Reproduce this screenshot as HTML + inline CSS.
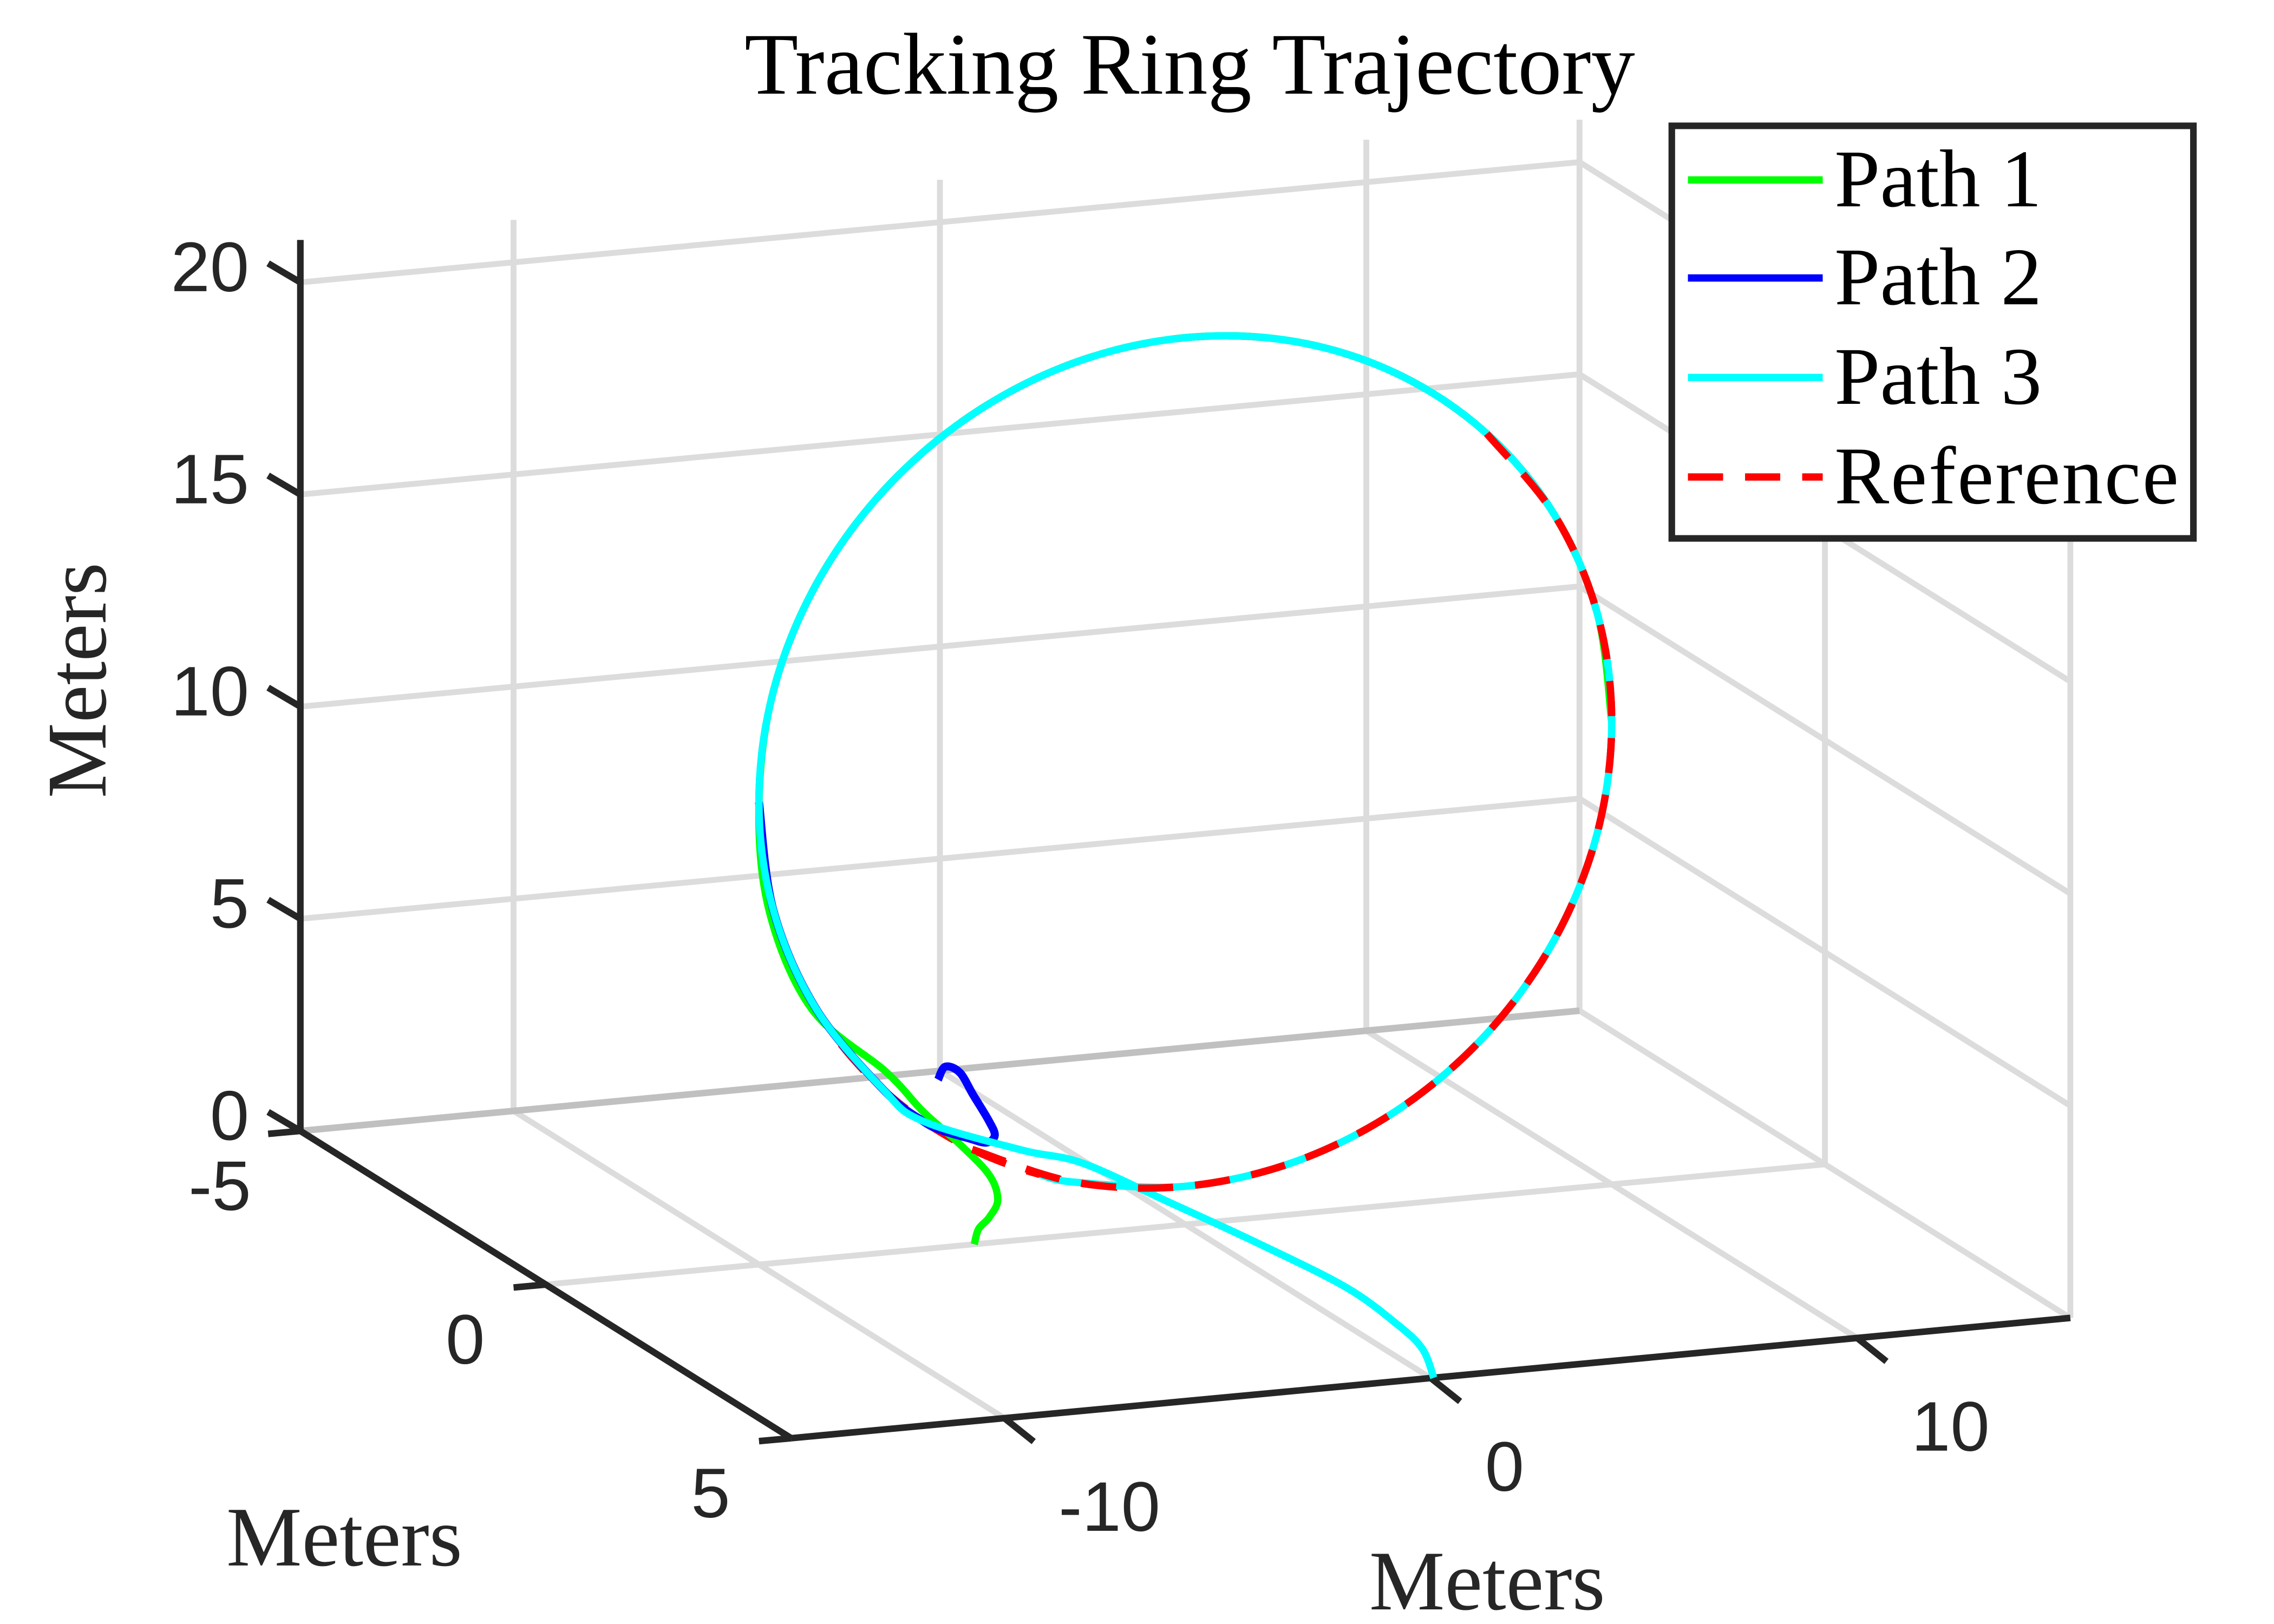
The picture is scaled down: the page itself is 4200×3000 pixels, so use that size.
<!DOCTYPE html>
<html><head><meta charset="utf-8"><title>Tracking Ring Trajectory</title>
<style>html,body{margin:0;padding:0;background:#fff;}svg{display:block;}</style></head>
<body>
<svg id="chart" xmlns="http://www.w3.org/2000/svg" width="4200" height="3000" viewBox="0 0 1552 1110" preserveAspectRatio="none">
<rect x="0" y="0" width="1552" height="1110" fill="#fff"/>
<g id="grid"></g>
<g id="axes"></g>
<g id="series"></g>
<text x="812" y="64" text-anchor="middle" font-family="'Liberation Serif', serif" font-size="60" fill="#000">Tracking Ring Trajectory</text>
<text transform="translate(72,465) rotate(-90)" text-anchor="middle" font-family="'Liberation Serif', serif" font-size="58" fill="#262626">Meters</text>
<text x="235" y="1070" text-anchor="middle" font-family="'Liberation Serif', serif" font-size="58" fill="#262626">Meters</text>
<text x="1015" y="1100" text-anchor="middle" font-family="'Liberation Serif', serif" font-size="58" fill="#262626">Meters</text>
<g>
<rect x="1141" y="86" width="356" height="282" fill="#fff" stroke="#262626" stroke-width="4.5"/>
<line x1="1152" y1="123" x2="1244" y2="123" stroke="#00ff00" stroke-width="5"/>
<text x="1252" y="141" font-family="'Liberation Serif', serif" font-size="56">Path 1</text>
<line x1="1152" y1="190" x2="1244" y2="190" stroke="#0000ff" stroke-width="5"/>
<text x="1252" y="208" font-family="'Liberation Serif', serif" font-size="56">Path 2</text>
<line x1="1152" y1="258" x2="1244" y2="258" stroke="#00ffff" stroke-width="5"/>
<text x="1252" y="276" font-family="'Liberation Serif', serif" font-size="56">Path 3</text>
<line x1="1152" y1="326" x2="1244" y2="326" stroke="#ff0000" stroke-width="5" stroke-dasharray="24 15"/>
<text x="1252" y="344" font-family="'Liberation Serif', serif" font-size="56" textLength="235">Reference</text>
</g>
</svg>
<script>
// axis limits and ticks
const xLim = [-15, 15];
const yLim = [-5, 5];
const zLim = [0, 21];
const xTicks = [-10, 0, 10];
const yTicks = [-5, 0, 5];
const zTicks = [0, 5, 10, 15, 20];
const xTickLabels = ["-10", "0", "10"];
const yTickLabels = ["-5", "0", "5"];
const zTickLabels = ["0", "5", "10", "15", "20"];

// Reference ring (sampled every 15 deg)
const refX = [10, 9.66, 8.66, 7.07, 5, 2.59, 0, -2.59, -5, -7.07, -8.66, -9.66, -10, -9.66, -8.66, -7.07, -5, -2.59, 0, 2.59, 5, 7.07, 8.66, 9.66, 10];
const refY = [0, 0, 0, 0, 0, 0, 0, 0, 0, 0, 0, 0, 0, 0, 0, 0, 0, 0, 0, 0, 0, 0, 0, 0, 0];
const refZ = [10.9, 13.49, 15.9, 17.97, 19.56, 20.56, 20.9, 20.56, 19.56, 17.97, 15.9, 13.49, 10.9, 8.31, 5.9, 3.83, 2.24, 1.24, 0.9, 1.24, 2.24, 3.83, 5.9, 8.31, 10.9];

// Path 3 (cyan)
const p3X = [0.07, 0.38, 0.36, -0.03, -1.16, -2.42, -3.79, -4.54, -6.16, -7.07, -8.66, -9.66, -10, -9.66, -8.66, -7.07, -5, -2.59, 0, 2.59, 5, 7.07, 8.66, 9.66, 10, 9.66, 8.66, 7.07, 5, 2.59, 0, -2.59, -3.42];
const p3Y = [5, 4.5, 4, 3.3, 2.5, 1.8, 1.2, 0.6, 0, 0, 0, 0, 0, 0, 0, 0, 0, 0, 0, 0, 0, 0, 0, 0, 0, 0, 0, 0, 0, 0, 0, 0, 0];
const p3Z = [0, 0.29, 0.51, 0.91, 1.47, 2.04, 2.67, 2.62, 3.02, 3.83, 5.9, 8.31, 10.9, 13.49, 15.9, 17.97, 19.56, 20.56, 20.9, 20.56, 19.56, 17.97, 15.9, 13.49, 10.9, 8.31, 5.9, 3.83, 2.24, 1.24, 0.9, 1.24, 1.5];

// Path 1 (green)
const p1X = [-4.95, -4.85, -4.6, -4.4, -4.6, -5.29, -6.15, -7.01, -8.76, -9.76, -10, -9.66, -8.66, -7.07, -5, -2.59, 0, 2.59, 5, 7.07, 8.66, 9.66, 10];
const p1Y = [0, 0, 0, 0, 0, 0, 0, 0, 0, 0, 0, 0, 0, 0, 0, 0, 0, 0, 0, 0, 0, 0, 0];
const p1Z = [0, 0.35, 0.6, 1.0, 1.6, 2.39, 3.24, 4.25, 5.9, 8.31, 10.9, 13.49, 15.9, 17.97, 19.56, 20.56, 20.9, 20.56, 19.56, 17.97, 15.9, 13.49, 10.9];

// Path 2 (blue)
const p2X = [-5.8, -5.63, -5.29, -4.98, -4.61, -4.47, -4.67, -5.08, -5.7, -6.16, -7.07, -8.66, -9.66, -10];
const p2Y = [0, 0, 0, 0, 0, 0, 0, 0, 0, 0, 0, 0, 0, 0];
const p2Z = [3.96, 4.25, 4.08, 3.53, 2.88, 2.52, 2.37, 2.51, 2.75, 3.02, 3.83, 5.9, 8.31, 10.9];

// projection (orthographic, screen units of the viewBox)
const O = [205, 773];
const ex = [29.1, -2.74], ey = [33.5, 21], ez = [0, -29];
function P(x, y, z) {
  const a = x - xLim[0], b = y - yLim[0], c = z - zLim[0];
  return [O[0] + a*ex[0] + b*ey[0] + c*ez[0], O[1] + a*ex[1] + b*ey[1] + c*ez[1]];
}
const NS = 'http://www.w3.org/2000/svg';
function line(parent, p, q, stroke, w, name) {
  const l = document.createElementNS(NS, 'line');
  l.setAttribute('x1', p[0]); l.setAttribute('y1', p[1]);
  l.setAttribute('x2', q[0]); l.setAttribute('y2', q[1]);
  l.setAttribute('stroke', stroke); l.setAttribute('stroke-width', w);
  
  
  parent.appendChild(l);
  return l;
}
function text(parent, x, y, s, anchor, name) {
  const t = document.createElementNS(NS, 'text');
  t.setAttribute('x', x); t.setAttribute('y', y);
  t.setAttribute('text-anchor', anchor);
  t.setAttribute('font-family', "'Liberation Sans', Arial, sans-serif");
  t.setAttribute('font-size', '48');
  t.setAttribute('fill', '#262626');
  t.textContent = s;
  
  
  parent.appendChild(t);
}
const grid = document.getElementById('grid');
const axes = document.getElementById('axes');
const GC = '#dcdcdc', GW = 4;
xTicks.forEach(x => line(grid, P(x, yLim[0], zLim[0]), P(x, yLim[0], zLim[1]), GC, GW, 'grid-back-vertical'));
zTicks.forEach(z => { if (z > 0) line(grid, P(xLim[0], yLim[0], z), P(xLim[1], yLim[0], z), GC, GW, 'grid-back-horizontal'); });
line(grid, P(xLim[1], yLim[0], zLim[0]), P(xLim[1], yLim[0], zLim[1]), GC, GW, 'grid-back-corner');
yTicks.forEach(y => { if (y > yLim[0]) line(grid, P(xLim[1], y, zLim[0]), P(xLim[1], y, zLim[1]), GC, GW, 'grid-right-vertical'); });
zTicks.forEach(z => line(grid, P(xLim[1], yLim[0], z), P(xLim[1], yLim[1], z), GC, GW, 'grid-right-horizontal'));
xTicks.forEach(x => line(grid, P(x, yLim[0], 0), P(x, yLim[1], 0), GC, GW, 'grid-floor-x'));
yTicks.forEach(y => { if (y > yLim[0] && y < yLim[1]) line(grid, P(xLim[0], y, 0), P(xLim[1], y, 0), GC, GW, 'grid-floor-y'); });
line(grid, P(xLim[0], yLim[0], 0), P(xLim[1], yLim[0], 0), '#c0c0c0', 4.5, 'floor-back-edge');

const AC = '#262626', AW = 4.5;
line(axes, P(xLim[0], yLim[0], zLim[0]), P(xLim[0], yLim[0], zLim[1]), AC, AW, 'z-axis-line');
line(axes, P(xLim[0], yLim[0], 0), P(xLim[0], yLim[1], 0), AC, AW, 'y-axis-line');
line(axes, P(xLim[0], yLim[1], 0), P(xLim[1], yLim[1], 0), AC, AW, 'x-axis-line');
zTicks.forEach((z, i) => {
  const p = P(xLim[0], yLim[0], z);
  line(axes, p, [p[0]-22, p[1]-13], AC, AW, 'z-tick');
  text(axes, p[0]-35, p[1]+6, zTickLabels[i], 'end', 'z-tick-label');
});
yTicks.forEach((y, i) => {
  const p = P(xLim[0], y, 0);
  line(axes, p, [p[0]-22, p[1]+2], AC, AW, 'y-tick');
  text(axes, p[0]-55, p[1]+54, yTickLabels[i], 'middle', 'y-tick-label');
});
xTicks.forEach((x, i) => {
  const p = P(x, yLim[1], 0);
  line(axes, p, [p[0]+20, p[1]+16], AC, AW, 'x-tick');
  text(axes, p[0]+37, p[1]+77, xTickLabels[i], 'start', 'x-tick-label');
});

function pathD(X, Y, Z, closed) {
  const pts = X.map((x, i) => P(x, Y[i], Z[i]));
  const n = pts.length;
  let d = 'M' + pts[0][0].toFixed(2) + ' ' + pts[0][1].toFixed(2);
  for (let i = 0; i < n - 1; i++) {
    const p0 = pts[i > 0 ? i-1 : (closed ? n-2 : 0)];
    const p1 = pts[i], p2 = pts[i+1];
    const p3 = pts[i+2 < n ? i+2 : (closed ? 1 : n-1)];
    const c1 = [p1[0] + (p2[0]-p0[0])/6, p1[1] + (p2[1]-p0[1])/6];
    const c2 = [p2[0] - (p3[0]-p1[0])/6, p2[1] - (p3[1]-p1[1])/6];
    d += ' C' + c1.map(v=>v.toFixed(2)).join(' ') + ' ' + c2.map(v=>v.toFixed(2)).join(' ') + ' ' + p2.map(v=>v.toFixed(2)).join(' ');
  }
  return d;
}
const series = document.getElementById('series');
function addPath(d, color, w, dash, name) {
  const e = document.createElementNS(NS, 'path');
  e.setAttribute('d', d);
  e.setAttribute('fill', 'none');
  e.setAttribute('stroke', color);
  e.setAttribute('stroke-width', w);
  e.setAttribute('stroke-linejoin', 'round');
  if (dash) e.setAttribute('stroke-dasharray', dash);
  
  
  series.appendChild(e);
}
addPath(pathD(refX, refY, refZ, true), '#ff0000', 5, '24 15', 'reference-ring');
addPath(pathD(p1X, p1Y, p1Z, false), '#00ff00', 5, null, 'path-1-line');
addPath(pathD(p2X, p2Y, p2Z, false), '#0000ff', 5.5, null, 'path-2-line');
addPath(pathD(p3X, p3Y, p3Z, false), '#00ffff', 5, null, 'path-3-line');
// reference dashes drawn over the lower-right half of the ring
const fX = refX.slice(16, 25).concat(refX.slice(1, 4));
const fY = refY.slice(16, 25).concat(refY.slice(1, 4));
const fZ = refZ.slice(16, 25).concat(refZ.slice(1, 4));
addPath(pathD(fX, fY, fZ, false), '#ff0000', 5, '24 15', 'reference-ring-front');
</script>
</body></html>
